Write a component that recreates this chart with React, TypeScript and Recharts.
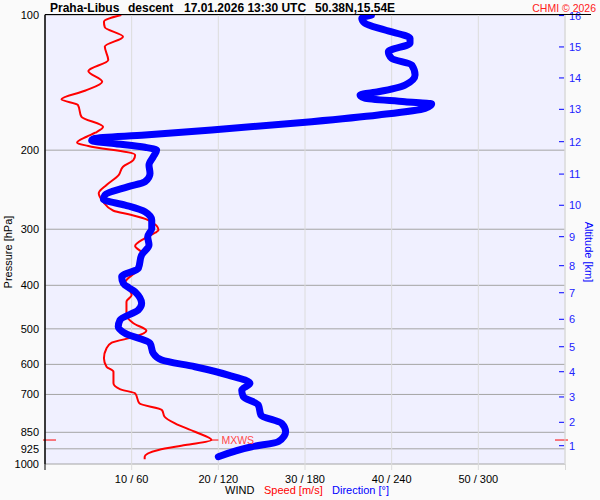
import React from 'react';
import { ScatterChart, Scatter, XAxis, YAxis, CartesianGrid, ReferenceLine } from 'recharts';

const FONT = '"Liberation Sans", Arial, Helvetica, sans-serif';

// Wind speed profile (m/s) vs pressure (hPa)
const speedPressure = [100, 103.5, 106.5, 111.8, 117.6, 125.9, 133.3, 140.8, 147.5, 154.1, 158.6, 168.5, 177.4, 182.9, 186.7, 192.5, 195.8, 205, 210.4, 217.7, 227.2, 239.1, 249.5, 260.5, 272.9, 278.9, 286.2, 301.3, 305.5, 314.4, 326.9, 339.4, 363.6, 396, 420.4, 435.1, 453.9, 465.7, 485.9, 504.7, 520.5, 536.9, 552.5, 581.6, 607.2, 623, 661.3, 681.9, 696.1, 732.6, 758.2, 784.8, 811.8, 847.5, 884.3, 907.4, 930.8, 963.2, 976.2];
const speedValues = [8.8, 6.8, 6.9, 9.0, 6.9, 7.3, 5.0, 6.6, 4.6, 1.9, 3.8, 4.2, 6.7, 5.8, 4.8, 3.7, 5.0, 10.4, 10.2, 9.0, 8.5, 7.1, 6.2, 6.7, 7.9, 10.0, 11.9, 13.1, 12.7, 11.5, 10.4, 11.2, 11.0, 9.2, 10.0, 9.4, 9.4, 9.4, 10.2, 11.7, 10.4, 7.7, 7.1, 6.8, 7.1, 7.9, 7.9, 8.7, 10.4, 10.9, 13.5, 13.8, 15.0, 17.3, 19.2, 16.2, 13.1, 11.5, 11.5];

// Wind direction profile (deg) vs pressure (hPa)
const dirPressure = [100, 101.7, 104.3, 108, 112.7, 115.6, 120.7, 124.9, 129.2, 136, 143.2, 148.2, 150.7, 153.3, 156, 157.8, 161.4, 167, 172.8, 180.4, 185.1, 188.3, 190.5, 193.1, 197.1, 199.9, 206.8, 215.8, 225.3, 235.1, 241.2, 251.7, 257.3, 265, 274.3, 286.2, 298.7, 311.8, 325.3, 342.4, 366.6, 382.7, 396, 413.4, 438.7, 453.9, 477.9, 494.6, 511.5, 538.4, 567, 586.8, 607.2, 633.7, 661.3, 684.4, 707.9, 739, 777.9, 811.8, 847.5, 891.9, 915.3, 963.2];
const dirValues = [226, 219.3, 221.5, 235.4, 252.7, 252.7, 237.7, 240, 253.9, 256.2, 249.2, 230.7, 218.1, 221.5, 249.2, 267.7, 263.1, 230.7, 184.6, 115.4, 69.2, 34.6, 32.3, 46.2, 69.2, 77.3, 75, 72, 72.7, 69.2, 57.7, 41.5, 40.4, 55.4, 69.2, 73.9, 73.9, 71.1, 72, 66.9, 64.6, 53.1, 54.2, 62.3, 66.9, 64.6, 51.9, 50.7, 55.4, 72.7, 75, 80.8, 103.8, 126.9, 141.9, 136.2, 137.3, 147.7, 149.5, 163.9, 166.6, 161.5, 143.1, 120];

// Maximum wind
const mxwsPressure = 884.3;
const mxwsSpeed = 19.2;

// Axes
const pressureTicks = [100, 200, 300, 400, 500, 600, 700, 850, 925, 1000];
const speedTicks = [10, 20, 30, 40, 50];
const speedTickLabels = ['10 / 60', '20 / 120', '30 / 180', '40 / 240', '50 / 300'];
const altKm = [1, 2, 3, 4, 5, 6, 7, 8, 9, 10, 11, 12, 13, 14, 15, 16];
const altPressure = [910.5, 807.5, 709.1, 623, 548.1, 476.1, 415.5, 361.7, 311.7, 265.3, 226.1, 191.5, 162.2, 138.1, 117.8, 100.3];

const speedData = speedPressure.map((p, i) => ({ p, x: speedValues[i] }));
const dirData = dirPressure.map((p, i) => ({ p, x: dirValues[i] }));
const mxwsData = [{ p: mxwsPressure, x: mxwsSpeed }];

const NoShape = () => <g />;

const MxwsShape = (props: any) => {
  const { cx, cy } = props;
  return (
    <g>
      <line x1={cx} x2={cx + 7} y1={cy} y2={cy} stroke="#ff0000" strokeWidth={1} />
      <text x={cx + 10} y={cy} dy={3.6} fill="#ff4848" fontSize={10.5} fontFamily={FONT}>MXWS</text>
    </g>
  );
};

const AltTick = (props: any) => {
  const { x, y, payload } = props;
  const idx = altPressure.indexOf(payload.value);
  return (
    <g>
      <line x1={x - 6} x2={x - 1} y1={y} y2={y} stroke="#0000ff" strokeWidth={1} />
      <text x={x + 4} y={y} dy={4} fill="#2222ff" fontSize={11} fontFamily={FONT}>{altKm[idx]}</text>
    </g>
  );
};

const SpeedTick = (props: any) => {
  const { x, y, payload } = props;
  const idx = speedTicks.indexOf(payload.value);
  return (
    <g>
      <line x1={x} x2={x} y1={y} y2={y + 6} stroke="#dcdcdc" strokeWidth={1} />
      <text x={x} y={y + 19} textAnchor="middle" fill="#000" fontSize={11} fontFamily={FONT}>{speedTickLabels[idx]}</text>
    </g>
  );
};

const MxwsRef = (props: any) => {
  const { x1, x2, y1 } = props;
  const l = Math.min(x1, x2);
  const r = Math.max(x1, x2);
  return (
    <g>
      <line x1={l - 2} x2={l + 11} y1={y1} y2={y1} stroke="#ff0000" strokeWidth={1} />
      <line x1={r - 10} x2={r + 3} y1={y1} y2={y1} stroke="#ff0000" strokeWidth={1} />
    </g>
  );
};

export default function App() {
  return (
    <div style={{ position: 'absolute', left: 0, top: 0, width: 600, height: 500, background: '#fafafa', fontFamily: FONT }}>
      <div style={{ position: 'absolute', left: 0, top: 0 }}>
        <ScatterChart width={600} height={500} margin={{ top: 15, right: 0, bottom: 0, left: 0 }}>
          <CartesianGrid xAxisId="s" yAxisId="p" fill="#f0f0ff" vertical={false} stroke="#a4a4a4" horizontal={true} />
          <CartesianGrid xAxisId="s" yAxisId="p" horizontal={false} stroke="#dcdcdc" />
          <XAxis
            xAxisId="s"
            dataKey="x"
            type="number"
            domain={[0, 60]}
            allowDataOverflow
            ticks={speedTicks}
            interval={0}
            height={36}
            axisLine={false}
            tickLine={false}
            tickSize={0}
            tickMargin={0}
            tick={<SpeedTick />}
          />
          <XAxis xAxisId="d" orientation="top" height={0} dataKey="x" type="number" domain={[0, 360]} allowDataOverflow hide />
          <YAxis
            yAxisId="p"
            dataKey="p"
            type="number"
            scale="log"
            domain={[100, 1000]}
            allowDataOverflow
            reversed
            ticks={pressureTicks}
            interval={0}
            width={45}
            tickLine={false}
            tickSize={0}
            tickMargin={6}
            axisLine={{ stroke: '#000' }}
            tick={{ fill: '#000', fontSize: 11, fontFamily: FONT }}
          />
          <YAxis
            yAxisId="alt"
            orientation="right"
            dataKey="p"
            type="number"
            scale="log"
            domain={[100, 1000]}
            allowDataOverflow
            reversed
            ticks={altPressure}
            interval={0}
            width={35}
            tickLine={false}
            tickSize={0}
            tickMargin={0}
            axisLine={{ stroke: '#d8d8d8' }}
            tick={<AltTick />}
          />
          <ReferenceLine yAxisId="p" xAxisId="s" y={mxwsPressure} shape={MxwsRef} />
          <Scatter
            data={speedData}
            xAxisId="s"
            yAxisId="p"
            fill="#ff0000"
            line={{ stroke: '#ff0000', strokeWidth: 2 }}
            lineJointType="monotoneY"
            shape={NoShape}
            isAnimationActive={false}
          />
          <Scatter
            data={dirData}
            xAxisId="d"
            yAxisId="p"
            fill="#0000ff"
            line={{ stroke: '#0000ff', strokeWidth: 7, strokeLinecap: 'round', strokeLinejoin: 'round' }}
            lineJointType="monotoneY"
            shape={NoShape}
            isAnimationActive={false}
          />
          <Scatter
            data={mxwsData}
            xAxisId="s"
            yAxisId="p"
            fill="#ff0000"
            shape={MxwsShape}
            isAnimationActive={false}
          />
        </ScatterChart>
      </div>
      <svg width={600} height={500} style={{ position: 'absolute', left: 0, top: 0, pointerEvents: 'none' }}>
        <line x1={45} x2={591} y1={14.5} y2={14.5} stroke="#000" strokeWidth={1} />
        <line x1={45} x2={45} y1={14.5} y2={470} stroke="#000" strokeWidth={1} />
        <line x1={565.5} x2={565.5} y1={464} y2={470} stroke="#d8d8d8" strokeWidth={1} />
        <g fontFamily={FONT} fontWeight="bold" fontSize={12} fill="#000">
          <text x={50} y={12}>Praha-Libus</text>
          <text x={128} y={12}>descent</text>
          <text x={184} y={12}>17.01.2026 13:30 UTC</text>
          <text x={315} y={12}>50.38N,15.54E</text>
        </g>
        <text x={596} y={12} textAnchor="end" fontFamily={FONT} fontSize={10.5} fill="#ff2020">CHMI © 2026</text>
        <g fontFamily={FONT} fontSize={11}>
          <text x={225} y={494} fill="#000">WIND</text>
          <text x={264} y={494} fill="#ff0000">Speed [m/s]</text>
          <text x={332} y={494} fill="#0000ff">Direction [°]</text>
        </g>
        <text x={12} y={252} textAnchor="middle" fontFamily={FONT} fontSize={11} fill="#000" transform="rotate(-90 12 252)">Pressure [hPa]</text>
        <text x={585} y={252} textAnchor="middle" fontFamily={FONT} fontSize={11} fill="#0000ff" transform="rotate(90 585 252)">Altitude [km]</text>
      </svg>
    </div>
  );
}
